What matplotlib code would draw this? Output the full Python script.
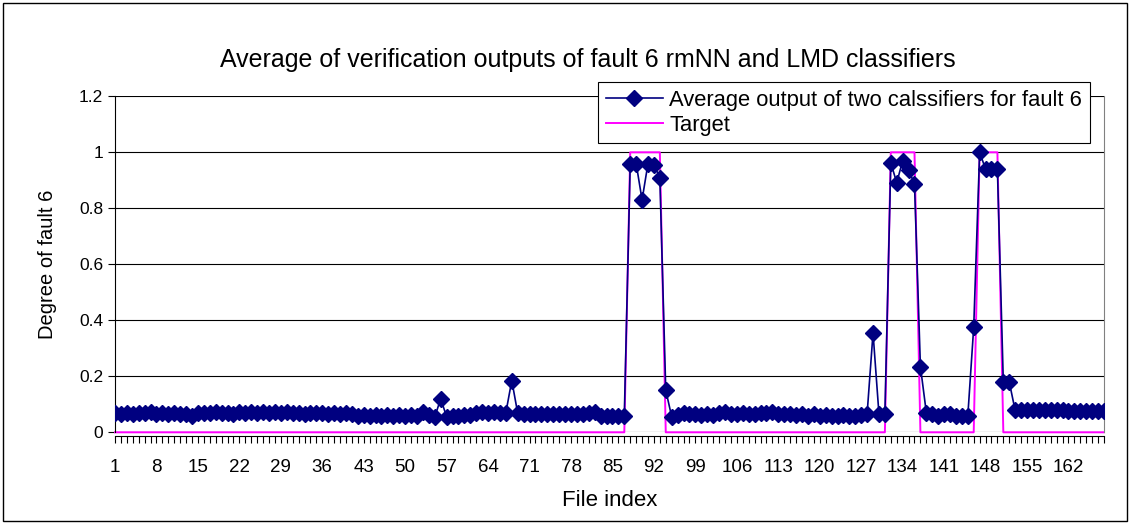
import numpy as np
import matplotlib
matplotlib.use('Agg')
import matplotlib.pyplot as plt
from matplotlib.patches import Rectangle

plt.rcParams['font.family'] = ['Liberation Sans', 'DejaVu Sans']

# file index 1..168
file_index = list(range(1, 169))

# average output of the two classifiers
avg_1_42 = [0.070, 0.066, 0.070, 0.066, 0.070, 0.068, 0.071, 0.067, 0.070, 0.066,
            0.069, 0.067, 0.066, 0.058, 0.068, 0.070, 0.068, 0.071, 0.068, 0.070,
            0.067, 0.071, 0.068, 0.071, 0.069, 0.071, 0.068, 0.071, 0.069, 0.071,
            0.068, 0.070, 0.067, 0.070, 0.068, 0.070, 0.066, 0.069, 0.066, 0.069,
            0.065, 0.060]
avg_43_87 = [0.062, 0.058, 0.062, 0.058, 0.061, 0.058, 0.061, 0.058, 0.061, 0.060,
             0.074, 0.062, 0.055, 0.120, 0.055, 0.060, 0.058, 0.061, 0.062, 0.068,
             0.072, 0.070, 0.072, 0.069, 0.070, 0.185, 0.068, 0.064, 0.066, 0.064,
             0.066, 0.064, 0.066, 0.064, 0.066, 0.065, 0.067, 0.066, 0.068, 0.072,
             0.060, 0.058, 0.060, 0.058, 0.058]
avg_88_95 = [0.960, 0.960, 0.830, 0.960, 0.955, 0.910, 0.150, 0.056]
avg_96_131 = [0.062, 0.070, 0.066, 0.066, 0.062, 0.066, 0.062, 0.068, 0.072, 0.066,
              0.064, 0.070, 0.064, 0.066, 0.068, 0.070, 0.072, 0.066, 0.064, 0.066,
              0.062, 0.064, 0.060, 0.064, 0.060, 0.062, 0.060, 0.060, 0.062, 0.060,
              0.060, 0.062, 0.066, 0.355, 0.065, 0.065]
avg_132_152 = [0.963, 0.891, 0.970, 0.937, 0.887, 0.235, 0.070, 0.065, 0.060, 0.066,
               0.066, 0.060, 0.058, 0.058, 0.375, 1.000, 0.940, 0.940, 0.940, 0.180,
               0.180]
avg_153_168 = [0.078, 0.078, 0.078, 0.079, 0.078, 0.079, 0.078, 0.079, 0.078, 0.076,
               0.076, 0.076, 0.076, 0.076, 0.076, 0.076]
average_output = avg_1_42 + avg_43_87 + avg_88_95 + avg_96_131 + avg_132_152 + avg_153_168

# target: 1 where fault 6 is present
fault_ranges = [(88, 93), (132, 136), (147, 150)]
target = [1 if any(a <= i <= b for a, b in fault_ranges) else 0 for i in file_index]

fig = plt.figure(figsize=(11.3, 5.23), dpi=100)
ax = fig.add_axes([115 / 1130, 1 - 432.3 / 523, (1104 - 115) / 1130, (432.3 - 96.3) / 523])

ax.plot(file_index, average_output, color='#000080', lw=1.2, marker='D', markersize=7.8,
        label='Average output of two calssifiers for fault 6', zorder=3)
ax.plot(file_index, target, color='#FF00FF', lw=1.4, label='Target', zorder=2.5, clip_on=False)

ax.set_xlim(1, 168)
ax.set_ylim(0, 1.2)
ax.set_yticks([0, 0.2, 0.4, 0.6, 0.8, 1.0, 1.2])
ax.set_yticklabels(['0', '0.2', '0.4', '0.6', '0.8', '1', '1.2'])
ax.set_xticks(list(range(1, 169, 7)))
ax.set_xticks(file_index, minor=True)
ax.tick_params(axis='x', which='both', direction='out', length=5, width=0.8, labelsize=13.5, pad=11)
ax.tick_params(axis='y', direction='out', length=5, width=0.8, labelsize=12.5)
ax.grid(axis='y', color='black', lw=0.8)
ax.set_axisbelow(True)
ax.spines['top'].set_visible(False)
ax.spines['right'].set_color('#808080')
ax.spines['bottom'].set_position(('outward', 3))

fig.text(588 / 1130, 1 - 60 / 523,
         'Average of verification outputs of fault 6 rmNN and LMD classifiers',
         fontsize=18, ha='center', va='center')
ax.set_xlabel('File index', fontsize=16, labelpad=10)
ax.set_ylabel('Degree of fault 6', fontsize=14.5, labelpad=16)

leg = ax.legend(loc='upper right', bbox_to_anchor=(1090 / 1130, 1 - 82 / 523),
                bbox_transform=fig.transFigure, fontsize=15.8,
                frameon=True, fancybox=False, edgecolor='black', framealpha=1,
                handlelength=2.6, borderpad=0.35, labelspacing=0.18, handletextpad=0.3,
                borderaxespad=0)
leg.get_frame().set_linewidth(0.8)

fig.patches.append(Rectangle((0.003, 0.004), 0.994, 0.99, transform=fig.transFigure,
                             fill=False, edgecolor='black', lw=1))

fig.savefig('out.png', dpi=100)
